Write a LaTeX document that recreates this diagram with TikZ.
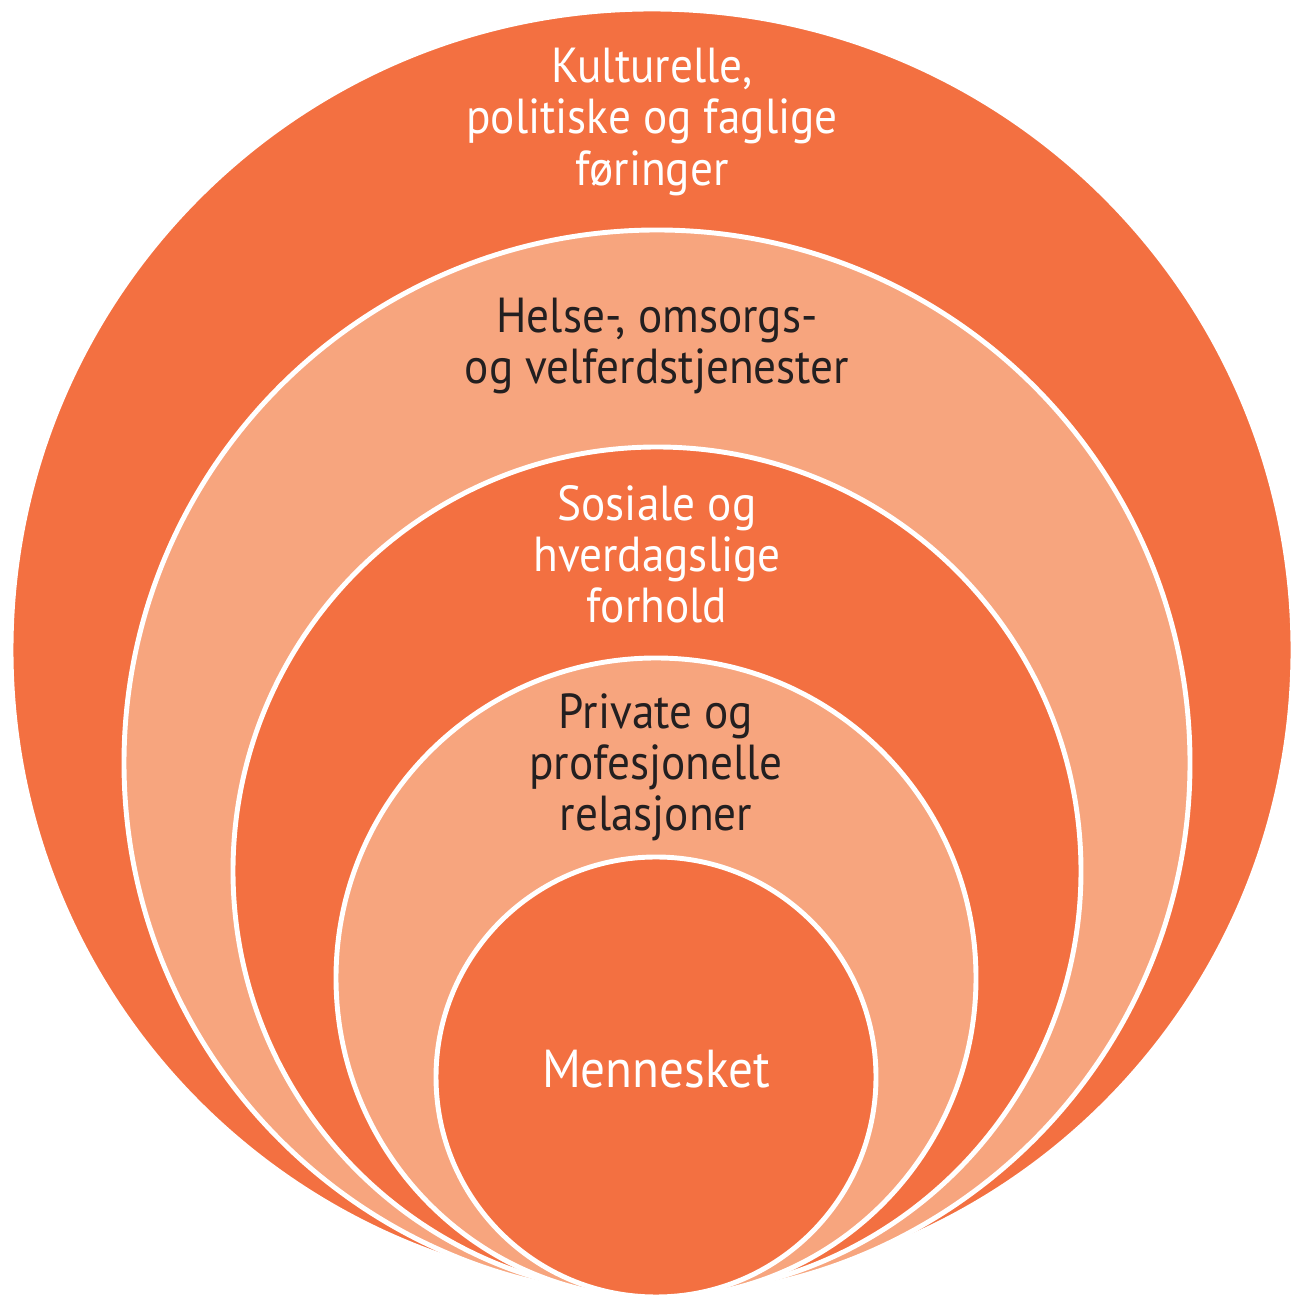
\documentclass[tikz,border=0pt]{standalone}
\usepackage{fontspec}
\setmainfont[FakeStretch=0.92]{PT Sans}
\usepackage{xcolor}
\usetikzlibrary{positioning}
\definecolor{ringdark}{HTML}{F37041}
\definecolor{ringlight}{HTML}{F7A57E}
\definecolor{textdark}{HTML}{231F20}

\begin{document}
\begin{tikzpicture}[
  ring/.style={circle, draw=white, line width=1.4pt, inner sep=0pt},
  ringtext/.style={align=center, inner sep=0pt, font=\fontsize{14}{14.6}\selectfont}
]
\useasboundingbox (0,0) rectangle (12.92,12.96);

% Rings, from the outside in
\node[ring, fill=ringdark, minimum size=12.82cm] (society) at (6.52,6.46) {};
\node[ring, fill=ringlight, minimum size=10.66cm] (services) at (6.57,5.33) {};
\node[ring, fill=ringdark, minimum size=8.48cm] (everyday) at (6.57,4.25) {};
\node[ring, fill=ringlight, minimum size=6.40cm] (relations) at (6.56,3.18) {};
\node[ring, fill=ringdark, minimum size=4.40cm] (person) at (6.56,2.19) {};

% Ring labels
\node[ringtext, text=white, below=0.41cm of society.north] (societytext)
  {Kulturelle,\\politiske og faglige\\føringer};
\node[ringtext, text=textdark, below=0.70cm of services.north] (servicestext)
  {Helse-, omsorgs-\\og velferdstjenester};
\node[ringtext, text=white, below=0.40cm of everyday.north] (everydaytext)
  {Sosiale og\\hverdagslige\\forhold};
\node[ringtext, text=textdark, below=0.37cm of relations.north] (relationstext)
  {Private og\\profesjonelle\\relasjoner};
\node[ringtext, text=white, font=\fontsize{15.2}{16}\selectfont] (persontext)
  at ([yshift=0.08cm]person.center) {Mennesket};

\end{tikzpicture}
\end{document}
